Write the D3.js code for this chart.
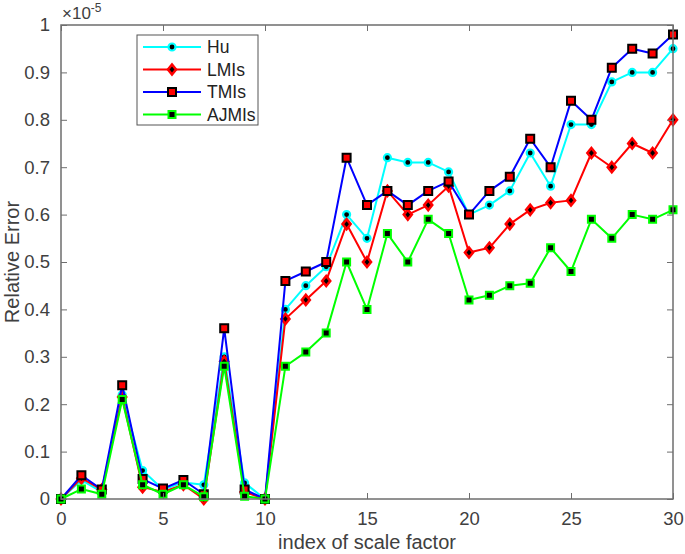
<!DOCTYPE html>
<html>
<head>
<meta charset="utf-8">
<script src="https://cdn.jsdelivr.net/npm/d3@7"></script>
<style>
  body { margin: 0; background: #fff; }
  svg { display: block; font-family: "Liberation Sans", Arial, sans-serif; }
</style>
</head>
<body>
<svg id="chart" width="685" height="554"></svg>
<script>
const width = 685;
const height = 554;

// data (values in units of 1e-5)
const xIndex = d3.range(0, 31);
const hu =    [0, 0.04, 0.015, 0.22, 0.06, 0.02, 0.035, 0.03, 0.30, 0.034, 0,
               0.40, 0.45, 0.49, 0.60, 0.55, 0.72, 0.71, 0.71, 0.69, 0.60,
               0.62, 0.65, 0.73, 0.66, 0.79, 0.79, 0.88, 0.90, 0.90, 0.95];
const lmis =  [0, 0.044, 0.02, 0.215, 0.025, 0.015, 0.03, 0.0, 0.29, 0.015, 0,
               0.38, 0.42, 0.46, 0.58, 0.50, 0.65, 0.60, 0.62, 0.66, 0.52,
               0.53, 0.58, 0.61, 0.625, 0.63, 0.73, 0.70, 0.75, 0.73, 0.80];
const tmis =  [0, 0.05, 0.02, 0.24, 0.042, 0.022, 0.04, 0.01, 0.36, 0.02, 0,
               0.46, 0.48, 0.50, 0.72, 0.62, 0.65, 0.62, 0.65, 0.67, 0.60,
               0.65, 0.68, 0.76, 0.70, 0.84, 0.80, 0.91, 0.95, 0.94, 0.98];
const ajmis = [0, 0.021, 0.01, 0.21, 0.03, 0.01, 0.03, 0.005, 0.28, 0.006, 0,
               0.28, 0.31, 0.35, 0.50, 0.40, 0.56, 0.50, 0.59, 0.56, 0.42,
               0.43, 0.45, 0.455, 0.53, 0.48, 0.59, 0.55, 0.60, 0.59, 0.61];

const seriesNames = ["Hu", "LMIs", "TMIs", "AJMIs"];
const seriesValues = [hu, lmis, tmis, ajmis];
const xTicks = [0, 5, 10, 15, 20, 25, 30];
const yTicks = [0, 0.1, 0.2, 0.3, 0.4, 0.5, 0.6, 0.7, 0.8, 0.9, 1];

// styles per series: line colour, marker shape, marker face, marker edge
const styles = {
  Hu:    { line: "#00ffff", shape: "circle",  face: "#000", edge: "#00ffff", size: 7 },
  LMIs:  { line: "#ff0000", shape: "diamond", face: "#000", edge: "#ff0000", size: 8 },
  TMIs:  { line: "#0000ff", shape: "square",  face: "#ff0000", edge: "#000", size: 8 },
  AJMIs: { line: "#00ff00", shape: "square",  face: "#000", edge: "#00ff00", size: 7 }
};

const margin = { left: 61, right: 12, top: 25, bottom: 55 };
const axisColor = "#6e6e6e";
const textColor = "#404040";

const x = d3.scaleLinear().domain([0, 30]).range([margin.left, width - margin.right]);
const y = d3.scaleLinear().domain([0, 1]).range([height - margin.bottom, margin.top]);

const svg = d3.select("#chart");

// series lines + markers
const series = seriesNames.map((name, i) => ({
  name,
  values: seriesValues[i].map((v, j) => ({ x: xIndex[j], y: v }))
}));

const line = d3.line().x((d) => x(d.x)).y((d) => y(d.y));

function markerPath(shape, s) {
  const h = s / 2;
  if (shape === "diamond") return `M0,${-h - 1}L${h},0L0,${h + 1}L${-h},0Z`;
  return `M${-h},${-h}H${h}V${h}H${-h}Z`;
}

function drawMarker(g, st) {
  if (st.shape === "circle") {
    g.append("circle")
      .attr("r", st.size / 2)
      .attr("fill", st.face)
      .attr("stroke", st.edge)
      .attr("stroke-width", 2.2);
  } else {
    g.append("path")
      .attr("d", markerPath(st.shape, st.size))
      .attr("fill", st.face)
      .attr("stroke", st.edge)
      .attr("stroke-width", st.shape === "diamond" ? 2.6 : 2);
  }
}

const plot = svg.append("g");

series.forEach((s) => {
  const st = styles[s.name];
  const g = plot.append("g");
  g.append("path")
    .datum(s.values)
    .attr("fill", "none")
    .attr("stroke", st.line)
    .attr("stroke-width", 2)
    .attr("stroke-linejoin", "round")
    .attr("d", line);
  g.selectAll("g.mk")
    .data(s.values)
    .join("g")
    .attr("class", "mk")
    .attr("transform", (d) => `translate(${x(d.x)},${y(d.y)})`)
    .each(function () {
      drawMarker(d3.select(this), st);
    });
});

// axes (box with inward ticks)
const axes = svg.append("g");

axes.append("rect")
  .attr("x", margin.left)
  .attr("y", margin.top)
  .attr("width", width - margin.right - margin.left)
  .attr("height", height - margin.bottom - margin.top)
  .attr("fill", "none")
  .attr("stroke", axisColor)
  .attr("stroke-width", 1.5);

const bottomAxis = d3.axisBottom(x).tickValues(xTicks).tickSize(-6).tickPadding(13).tickFormat(d3.format("d"));
const topAxis = d3.axisTop(x).tickValues(xTicks).tickSize(-6).tickFormat("");
const leftAxis = d3.axisLeft(y).tickValues(yTicks).tickSize(-6).tickPadding(11).tickFormat((d) => (d === 0 || d === 1 ? d3.format("d")(d) : d3.format(".1f")(d)));
const rightAxis = d3.axisRight(y).tickValues(yTicks).tickSize(-6).tickFormat("");

function styleAxis(g) {
  g.select(".domain").remove();
  g.selectAll(".tick line").attr("stroke", axisColor).attr("stroke-width", 1);
  g.selectAll(".tick text")
    .attr("fill", textColor)
    .style("font-size", "18.5px")
    .style("font-family", "'Liberation Sans', Arial, sans-serif");
}

axes.append("g").attr("transform", `translate(0,${height - margin.bottom})`).call(bottomAxis).call(styleAxis);
axes.append("g").attr("transform", `translate(0,${margin.top})`).call(topAxis).call(styleAxis);
axes.append("g").attr("transform", `translate(${margin.left},0)`).call(leftAxis).call(styleAxis);
axes.append("g").attr("transform", `translate(${width - margin.right},0)`).call(rightAxis).call(styleAxis);

// exponent label
const expo = axes.append("text")
  .attr("x", margin.left + 1)
  .attr("y", margin.top - 6)
  .attr("fill", textColor)
  .style("font-size", "17px");
expo.append("tspan").text("\u00d710");
expo.append("tspan").attr("dy", -7).style("font-size", "12px").text("-5");

// axis titles
svg.append("text")
  .attr("x", (margin.left + width - margin.right) / 2)
  .attr("y", height - 5)
  .attr("text-anchor", "middle")
  .attr("fill", textColor)
  .style("font-size", "20px")
  .text("index of scale factor");

svg.append("text")
  .attr("transform", `translate(19,${(margin.top + height - margin.bottom) / 2}) rotate(-90)`)
  .attr("text-anchor", "middle")
  .attr("fill", textColor)
  .style("font-size", "20px")
  .text("Relative Error");

// legend
const legend = svg.append("g").attr("transform", "translate(137,35)");
legend.append("rect")
  .attr("width", 121)
  .attr("height", 90)
  .attr("fill", "#fff")
  .attr("stroke", "#555")
  .attr("stroke-width", 1);

seriesNames.forEach((name, i) => {
  const st = styles[name];
  const row = legend.append("g").attr("transform", `translate(0,${12 + i * 22.5})`);
  row.append("line")
    .attr("x1", 6).attr("x2", 64)
    .attr("stroke", st.line)
    .attr("stroke-width", 2);
  drawMarker(row.append("g").attr("transform", "translate(35,0)"), st);
  row.append("text")
    .attr("x", 70)
    .attr("dy", "0.36em")
    .attr("fill", "#222")
    .style("font-size", "17.5px")
    .text(name);
});
</script>
</body>
</html>
